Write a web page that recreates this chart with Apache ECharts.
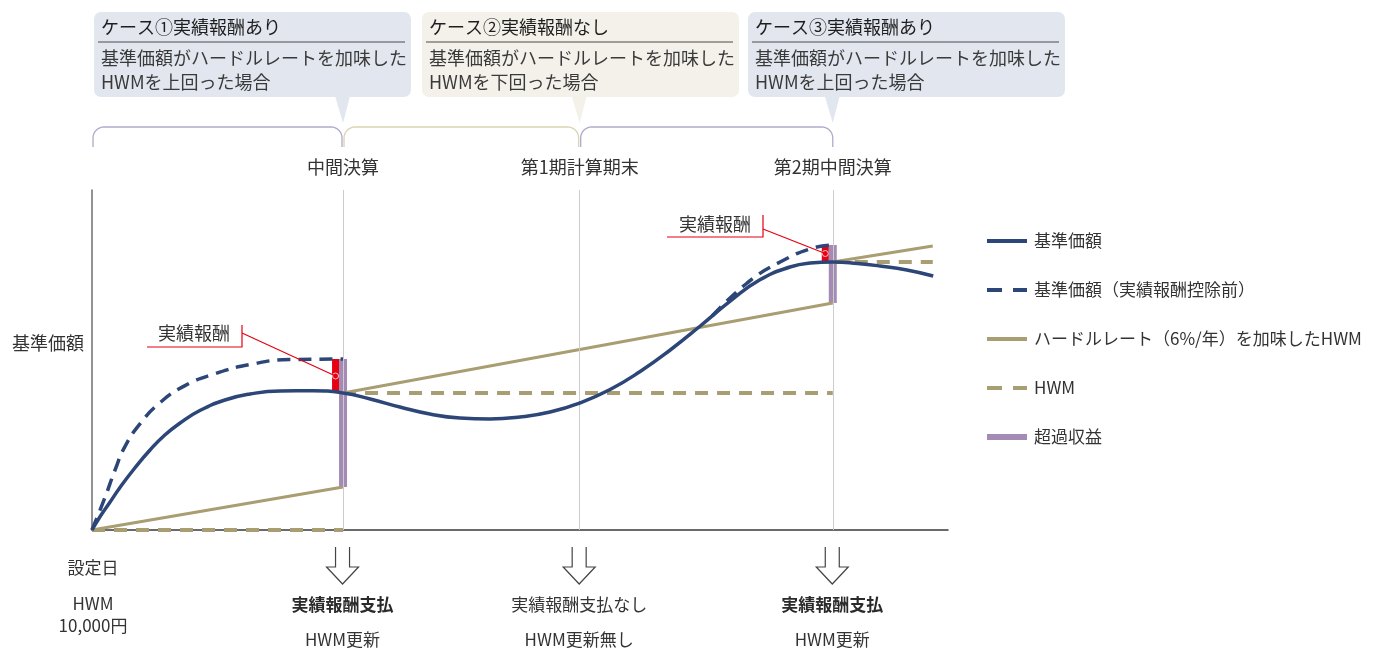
<!DOCTYPE html>
<html lang="ja">
<head>
<meta charset="utf-8">
<title>実績報酬とHWMの仕組み</title>
<script src="https://cdn.jsdelivr.net/npm/echarts/dist/echarts.min.js"></script>
<style>
  html, body { margin: 0; padding: 0; background: #ffffff; }
  #main { width: 1377px; height: 648px; }
</style>
</head>
<body>
<div id="main"></div>
<script>
// ---- data (x: months since inception, y: NAV in yen) ----
const settleX = [6.1, 11.85, 18];
const settleLabels = ['中間決算', '第1期計算期末', '第2期中間決算'];

// NAV after performance fee
const navAfterFee = [
  [0, 10000], [0.19, 10130], [0.44, 10280], [0.68, 10425], [1.04, 10620],
  [1.41, 10800], [1.77, 10950], [2.14, 11070], [2.62, 11195], [3.23, 11300],
  [3.84, 11360], [4.57, 11390], [5.37, 11392], [6.1, 11370], [6.76, 11310],
  [7.48, 11230], [8.21, 11160], [8.94, 11120], [9.67, 11110], [10.4, 11130],
  [11.13, 11180], [11.85, 11270], [12.59, 11405], [13.32, 11585], [14.05, 11800],
  [14.78, 12040], [15.5, 12286], [16.23, 12502], [16.96, 12630], [17.45, 12670],
  [18, 12680], [18.6, 12665], [19.15, 12640], [19.8, 12600], [20.44, 12540]
];

// NAV before performance fee ('-' separates the two stretches)
const navBeforeFee = [
  [0, 10000], [0.32, 10330], [0.56, 10600], [0.8, 10834], [1.17, 11064],
  [1.65, 11272], [2.26, 11444], [2.99, 11563], [3.84, 11655], [4.81, 11704],
  [6.1, 11710],
  [6.1, '-'],
  [15.07, 12140], [15.92, 12470], [16.72, 12680], [17.52, 12820], [18, 12850]
];

// HWM plus hurdle rate (6% per year)
const hurdleHwm = [
  [0, 10000], [6.1, 10430], [6.1, '-'],
  [6.1, 11370], [18, 12270], [18, '-'],
  [18, 12680], [20.43, 12840]
];

// High water mark
const hwm = [
  [0, 10000], [6.1, 10000], [6.1, '-'],
  [6.1, 11370], [18, 11370], [18, '-'],
  [18, 12680], [20.43, 12680]
];

// [x, low, high]
const excessReturn = [[6.1, 10430, 11710], [18, 12270, 12850]];
const performanceFee = [[6.1, 11370, 11710], [18, 12680, 12850]];

// ---- texts ----
const caseTitles = ['ケース①実績報酬あり', 'ケース②実績報酬なし', 'ケース③実績報酬あり'];
const caseBodies = [
  ['基準価額がハードルレートを加味した', 'HWMを上回った場合'],
  ['基準価額がハードルレートを加味した', 'HWMを下回った場合'],
  ['基準価額がハードルレートを加味した', 'HWMを上回った場合']
];
const feeResult = ['実績報酬支払', '実績報酬支払なし', '実績報酬支払'];
const feeResultBold = [true, false, true];
const hwmResult = ['HWM更新', 'HWM更新無し', 'HWM更新'];
const startTexts = ['設定日', 'HWM', '10,000円'];
const seriesNames = ['基準価額', '基準価額（実績報酬控除前）', 'ハードルレート（6%/年）を加味したHWM', 'HWM', '超過収益'];

// ---- styles ----
const FONT = "'Noto Sans CJK JP', 'Noto Sans', sans-serif";
const NAVY = '#2b4677';
const KHAKI = '#a99d72';
const PURPLE = '#a38bb6';
const RED = '#e50012';
const TEXT = '#333333';

function rangeBar(width, shift, fill, marker) {
  return function (params, api) {
    const x = api.value(0);
    const lo = api.coord([x, api.value(1)]);
    const hi = api.coord([x, api.value(2)]);
    const children = [{
      type: 'rect',
      shape: { x: lo[0] + shift - width / 2, y: hi[1], width: width, height: lo[1] - hi[1] },
      style: { fill: fill }
    }];
    if (marker) {
      children.push({
        type: 'circle',
        shape: { cx: lo[0] + shift, cy: (lo[1] + hi[1]) / 2, r: 3 },
        style: { fill: 'none', stroke: '#f7c3c9', lineWidth: 1 }
      });
    }
    return { type: 'group', children: children };
  };
}

const chart = echarts.init(document.getElementById('main'));

const option = {
  animation: false,
  textStyle: { fontFamily: FONT },
  grid: { left: 92, right: 429, top: 190, bottom: 118 },
  xAxis: {
    type: 'value', min: 0, max: 20.8,
    axisLine: { show: true, lineStyle: { color: '#3a3a3a', width: 1.5 } },
    axisTick: { show: false }, axisLabel: { show: false }, splitLine: { show: false }
  },
  yAxis: {
    type: 'value', min: 10000, max: 13400,
    axisLine: { show: true, lineStyle: { color: '#6e6e6e', width: 1.5 } },
    axisTick: { show: false }, axisLabel: { show: false }, splitLine: { show: false }
  },
  legend: {
    orient: 'vertical', left: 980, top: 226,
    itemWidth: 40, itemHeight: 6, itemGap: 29,
    selectedMode: false,
    itemStyle: { opacity: 0 },
    textStyle: { fontFamily: FONT, fontSize: 17, color: TEXT, lineHeight: 20, padding: [0, 0, 0, 2] },
    data: [
      { name: seriesNames[0], lineStyle: { width: 4 } },
      { name: seriesNames[1], lineStyle: { width: 4, type: [15, 11] } },
      { name: seriesNames[2], lineStyle: { width: 4 } },
      { name: seriesNames[3], lineStyle: { width: 4, type: [15, 11] } },
      { name: seriesNames[4], icon: 'rect', itemStyle: { opacity: 1, color: PURPLE } }
    ]
  },
  series: [
    {
      name: '決算日', type: 'line', data: [], z: 1, silent: true,
      markLine: {
        silent: true, symbol: ['none', 'none'],
        lineStyle: { color: '#cccccc', width: 1, type: 'solid' },
        label: { position: 'end', distance: 14, fontFamily: FONT, fontSize: 18, color: TEXT, formatter: '{b}' },
        data: settleX.map((x, i) => ({ xAxis: x, name: settleLabels[i] }))
      }
    },
    {
      name: seriesNames[4], type: 'custom', z: 2,
      itemStyle: { color: PURPLE },
      renderItem: rangeBar(8, 0, PURPLE, false),
      encode: { x: 0, y: [1, 2] },
      data: excessReturn
    },
    {
      name: '実績報酬', type: 'custom', z: 2,
      itemStyle: { color: RED },
      renderItem: rangeBar(7, -7.5, RED, true),
      encode: { x: 0, y: [1, 2] },
      data: performanceFee
    },
    {
      name: seriesNames[3], type: 'line', z: 3, symbol: 'none',
      lineStyle: { color: KHAKI, width: 4, type: [13, 9] },
      itemStyle: { color: KHAKI },
      data: hwm
    },
    {
      name: seriesNames[2], type: 'line', z: 3, symbol: 'none',
      lineStyle: { color: KHAKI, width: 3 },
      itemStyle: { color: KHAKI },
      data: hurdleHwm
    },
    {
      name: seriesNames[1], type: 'line', z: 4, symbol: 'none', smooth: 0.5,
      lineStyle: { color: NAVY, width: 3.5, type: [13, 8] },
      itemStyle: { color: NAVY },
      data: navBeforeFee
    },
    {
      name: seriesNames[0], type: 'line', z: 5, symbol: 'none', smooth: 0.5,
      lineStyle: { color: NAVY, width: 3.5 },
      itemStyle: { color: NAVY },
      data: navAfterFee
    }
  ]
};

chart.setOption(option);

// ---- annotations placed from the axes ----
const toPx = (x, y) => chart.convertToPixel({ gridIndex: 0 }, [x, y]);
const baseY = 10000;
const xs = [0].concat(settleX).map(x => toPx(x, baseY)[0]);
const g = [];

function txt(x, y, text, size, opts) {
  g.push({
    type: 'text', x: x, y: y, z: 20,
    style: Object.assign({
      text: text, font: ((opts && opts.weight) ? opts.weight + ' ' : '') + size + 'px ' + FONT,
      fill: TEXT, align: 'left', verticalAlign: 'middle'
    }, opts && opts.style)
  });
}

// rounded corner points for a bracket
function bracePoints(x1, x2, yTop, yBottom, r) {
  const pts = [[x1, yBottom], [x1, yTop + r]];
  const n = 8;
  for (let k = 1; k <= n; k++) {
    const a = Math.PI - (Math.PI / 2) * k / n;
    pts.push([x1 + r + r * Math.cos(a), yTop + r - r * Math.sin(a)]);
  }
  pts.push([x2 - r, yTop]);
  for (let k = 1; k <= n; k++) {
    const a = Math.PI / 2 - (Math.PI / 2) * k / n;
    pts.push([x2 - r + r * Math.cos(a), yTop + r - r * Math.sin(a)]);
  }
  pts.push([x2, yBottom]);
  return pts;
}

// case call-outs
const boxLeft = [94, 422, 748];
const boxFill = ['#e2e6ef', '#f3f1ea', '#e2e6ef'];
for (let i = 0; i < 3; i++) {
  const cx = xs[i + 1];
  const bx = boxLeft[i];
  g.push({ type: 'rect', z: 10, shape: { x: bx, y: 12, width: 317, height: 85, r: 7 }, style: { fill: boxFill[i] } });
  g.push({ type: 'polygon', z: 10, shape: { points: [[cx - 8, 96], [cx + 7, 96], [cx, 123]] }, style: { fill: boxFill[i] } });
  txt(bx + 7, 27, caseTitles[i], 18, { style: { fill: '#1e1e1e' } });
  g.push({ type: 'line', z: 20, shape: { x1: bx + 4, y1: 42, x2: bx + 311, y2: 42 }, style: { stroke: '#4a4a4a', lineWidth: 1 } });
  txt(bx + 7, 58, caseBodies[i][0], 18, { style: { fill: '#3a3a3a' } });
  txt(bx + 7, 82, caseBodies[i][1], 18, { style: { fill: '#3a3a3a' } });
}

// period brackets
const braceColor = ['#aeaacb', '#dbd3b3', '#aeaacb'];
for (let i = 0; i < 3; i++) {
  const x1 = xs[i] + 1;
  const x2 = xs[i + 1] - (i === 2 ? 0 : 1);
  g.push({
    type: 'polyline', z: 10,
    shape: { points: bracePoints(x1, x2, 127, 147, 11) },
    style: { fill: 'none', stroke: braceColor[i], lineWidth: 1.3 }
  });
}

// y-axis title
txt(84, 343, '基準価額', 18, { style: { align: 'right' } });

// inception notes
txt(xs[0] + 1, 568, startTexts[0], 17, { style: { align: 'center' } });
txt(xs[0] + 1, 604, startTexts[1], 17, { style: { align: 'center' } });
txt(xs[0] + 1, 626, startTexts[2], 17, { style: { align: 'center' } });

// outcome arrows and notes
for (let i = 0; i < 3; i++) {
  const cx = xs[i + 1] - 0.5;
  g.push({
    type: 'polyline', z: 10,
    shape: { points: [[cx - 7, 547], [cx - 7, 567], [cx - 16, 567], [cx, 584], [cx + 16, 567], [cx + 7, 567], [cx + 7, 547]] },
    style: { fill: 'none', stroke: '#444444', lineWidth: 1.2 }
  });
  txt(cx, 605, feeResult[i], 17, { weight: feeResultBold[i] ? 'bold' : 'normal', style: { align: 'center', fill: feeResultBold[i] ? '#2a2a2a' : TEXT } });
  txt(cx, 640, hwmResult[i], 17, { style: { align: 'center' } });
}

// performance fee call-outs
const feeLabelPos = [
  { underL: 147, underR: 242, underY: 347, top: 325, joinY: 333, textX: 194, textY: 333 },
  { underL: 667, underR: 763, underY: 237, top: 215, joinY: 229, textX: 715, textY: 224 }
];
performanceFee.forEach((f, i) => {
  const p = toPx(f[0], (f[1] + f[2]) / 2);
  const L = feeLabelPos[i];
  g.push({
    type: 'polyline', z: 30,
    shape: { points: [[L.underL, L.underY], [L.underR, L.underY], [L.underR, L.top]] },
    style: { fill: 'none', stroke: RED, lineWidth: 1.2 }
  });
  g.push({
    type: 'line', z: 30,
    shape: { x1: L.underR, y1: L.joinY, x2: p[0] - 7.5, y2: p[1] },
    style: { stroke: RED, lineWidth: 1.2 }
  });
  txt(L.textX, L.textY, '実績報酬', 18, { style: { align: 'center' } });
});

chart.setOption({ graphic: { elements: g } });
</script>
</body>
</html>
